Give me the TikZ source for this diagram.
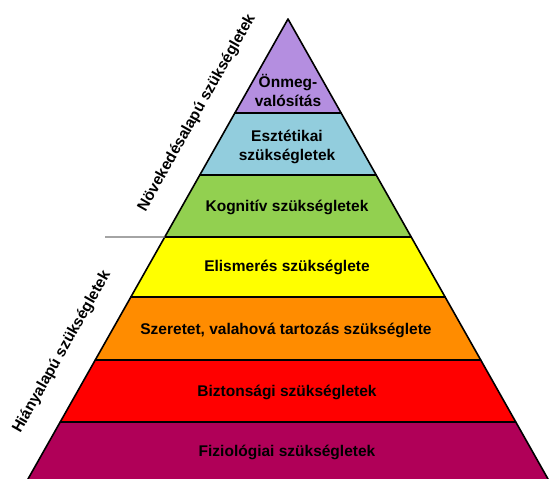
\documentclass[tikz,border=0pt]{standalone}
\usepackage{fontspec}
\setmainfont{Liberation Sans}
\usetikzlibrary{calc}
\definecolor{cPurple}{RGB}{180,142,224}
\definecolor{cBlue}{RGB}{146,205,221}
\definecolor{cGreen}{RGB}{146,208,80}
\definecolor{cYellow}{RGB}{255,255,0}
\definecolor{cOrange}{RGB}{255,140,0}
\definecolor{cRed}{RGB}{255,0,0}
\definecolor{cMagenta}{RGB}{176,0,88}
\begin{document}
\begin{tikzpicture}[x=1pt,y=-1pt,
  band/.style={draw=black,line width=1.6pt,line join=round},
  lbl/.style={font=\fontsize{15.5}{19}\selectfont\bfseries,text=black,align=center,inner sep=0pt},
  side/.style={font=\fontsize{15.5}{19}\selectfont\bfseries,text=black,inner sep=0pt,rotate=60.5}]
\clip (0,0) rectangle (550,479);
\useasboundingbox (0,0) rectangle (550,479);
\coordinate (apex) at (288,19);
\coordinate (BL) at (28,479);
\coordinate (BR) at (548,479);
\foreach \n/\y in {1/113,2/175,3/237,4/297,5/360,6/422,7/485}{
  \coordinate (L\n) at ($(apex)!{(\y-19)/460}!(BL)$);
  \coordinate (R\n) at ($(apex)!{(\y-19)/460}!(BR)$);
}
% bands
\filldraw[band,fill=cMagenta] (L6) -- (R6) -- (R7) -- (L7) -- cycle;
\filldraw[band,fill=cRed] (L5) -- (R5) -- (R6) -- (L6) -- cycle;
\filldraw[band,fill=cOrange] (L4) -- (R4) -- (R5) -- (L5) -- cycle;
\filldraw[band,fill=cYellow] (L3) -- (R3) -- (R4) -- (L4) -- cycle;
\filldraw[band,fill=cGreen] (L2) -- (R2) -- (R3) -- (L3) -- cycle;
\filldraw[band,fill=cBlue] (L1) -- (R1) -- (R2) -- (L2) -- cycle;
\filldraw[band,fill=cPurple] (apex) -- (R1) -- (L1) -- cycle;
% divider
\coordinate (divstart) at (105,237);
\draw[black!55,line width=1.2pt] (divstart) -- (L3);
% labels
\node[lbl] (t1) at (288,90) {Önmeg-\\valósítás};
\node[lbl] (t2) at (287,146.5) {Esztétikai\\szükségletek};
\node[lbl] (t3) at (287,207) {Kognitív szükségletek};
\node[lbl] (t4) at (287,267) {Elismerés szükséglete};
\node[lbl] (t5) at (286,330) {Szeretet, valahová tartozás szükséglete};
\node[lbl] (t6) at (287,392) {Biztonsági szükségletek};
\node[lbl] (t7) at (287,452) {Fiziológiai szükségletek};
\node[side] (s1) at (197,113) {Növekedésalapú szükségletek};
\node[side] (s2) at (62,352) {Hiányalapú szükségletek};
\end{tikzpicture}
\end{document}
